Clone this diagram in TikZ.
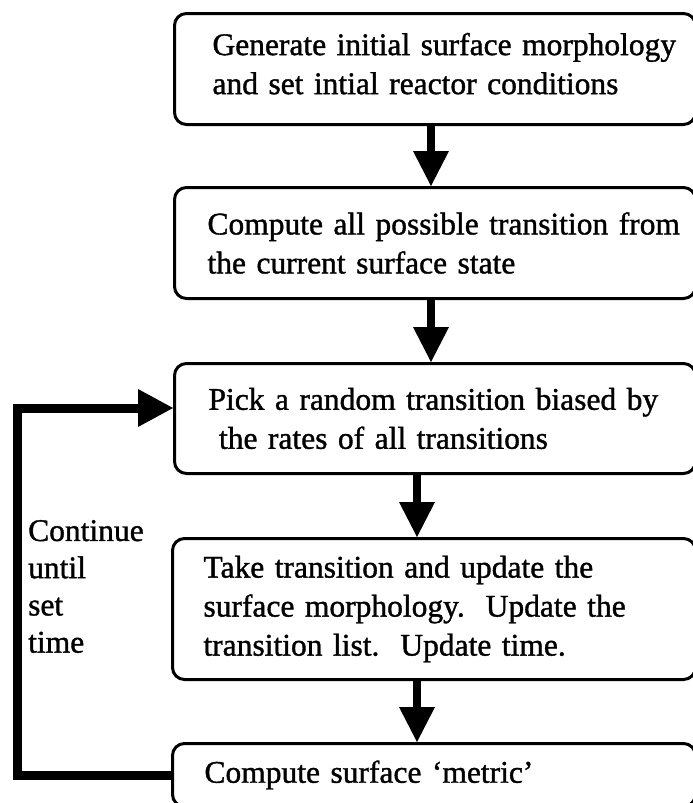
\documentclass[tikz,border=0pt]{standalone}
\usepackage{fontspec}
\setmainfont{Liberation Serif}[FakeBold=1.2]
\usetikzlibrary{arrows.meta}
\begin{document}
\begin{tikzpicture}[x=1pt,y=-1pt,
  txt/.style={font=\fontsize{31.5}{39}\selectfont},
  box/.style={txt, draw, line width=3pt, rounded corners=12pt,
    anchor=north west, align=left, inner ysep=0pt},
  flow/.style={line width=8pt,
    -{Triangle[width=36pt,length=35pt,line width=0pt]}},
  loopline/.style={line width=9pt,
    -{Triangle[width=38pt,length=35pt,line width=0pt]}}]
\useasboundingbox (0,0) rectangle (693,803);

% process steps
\node[box, minimum width=521pt, minimum height=111pt,
      inner xsep=38pt, text width=445pt] (b1) at (173,12)
  {\mbox{Generate initial surface morphology}\\
   \mbox{and set intial reactor conditions}\rule[-11pt]{0pt}{11pt}};
\node[box, minimum width=521pt, minimum height=111pt,
      inner xsep=33pt, text width=455pt] (b2) at (173,186)
  {\mbox{Compute all possible transition from}\\
   \mbox{the current surface state}};
\node[box, minimum width=521pt, minimum height=110pt,
      inner xsep=34pt, text width=453pt] (b3) at (173,362)
  {\mbox{Pick a random transition biased by}\\
   \mbox{\ the rates of all transitions}};
\node[box, minimum width=523pt, minimum height=141pt,
      inner xsep=31pt, text width=461pt] (b4) at (171,537)
  {\mbox{Take transition and update the}\\
   \mbox{surface morphology.\ \ Update the}\\
   \mbox{transition list.\ \ Update time.}};
\node[box, minimum width=523pt, minimum height=63pt,
      inner xsep=32pt, text width=459pt] (b5) at (171,742)
  {\mbox{Compute surface ‘metric’}};

% loop label
\node[txt, anchor=west, align=left, inner sep=0pt,
      font=\fontsize{31.5}{37.2}\selectfont] (cont) at (28,586.5)
  {Continue\\until\\set\\time};

% arrow columns and loop corner
\coordinate (ax1) at (431,0);
\coordinate (ax2) at (417,0);
\coordinate (lc) at (17,408);

\draw[flow] (b1.south -| ax1) -- (b2.north -| ax1);
\draw[flow] (b2.south -| ax1) -- (b3.north -| ax1);
\draw[flow] (b3.south -| ax2) -- (b4.north -| ax2);
\draw[flow] (b4.south -| ax2) -- (b5.north -| ax2);

\draw[loopline] (b5.west) -| (lc) -- (lc -| b3.west);
\end{tikzpicture}
\end{document}
